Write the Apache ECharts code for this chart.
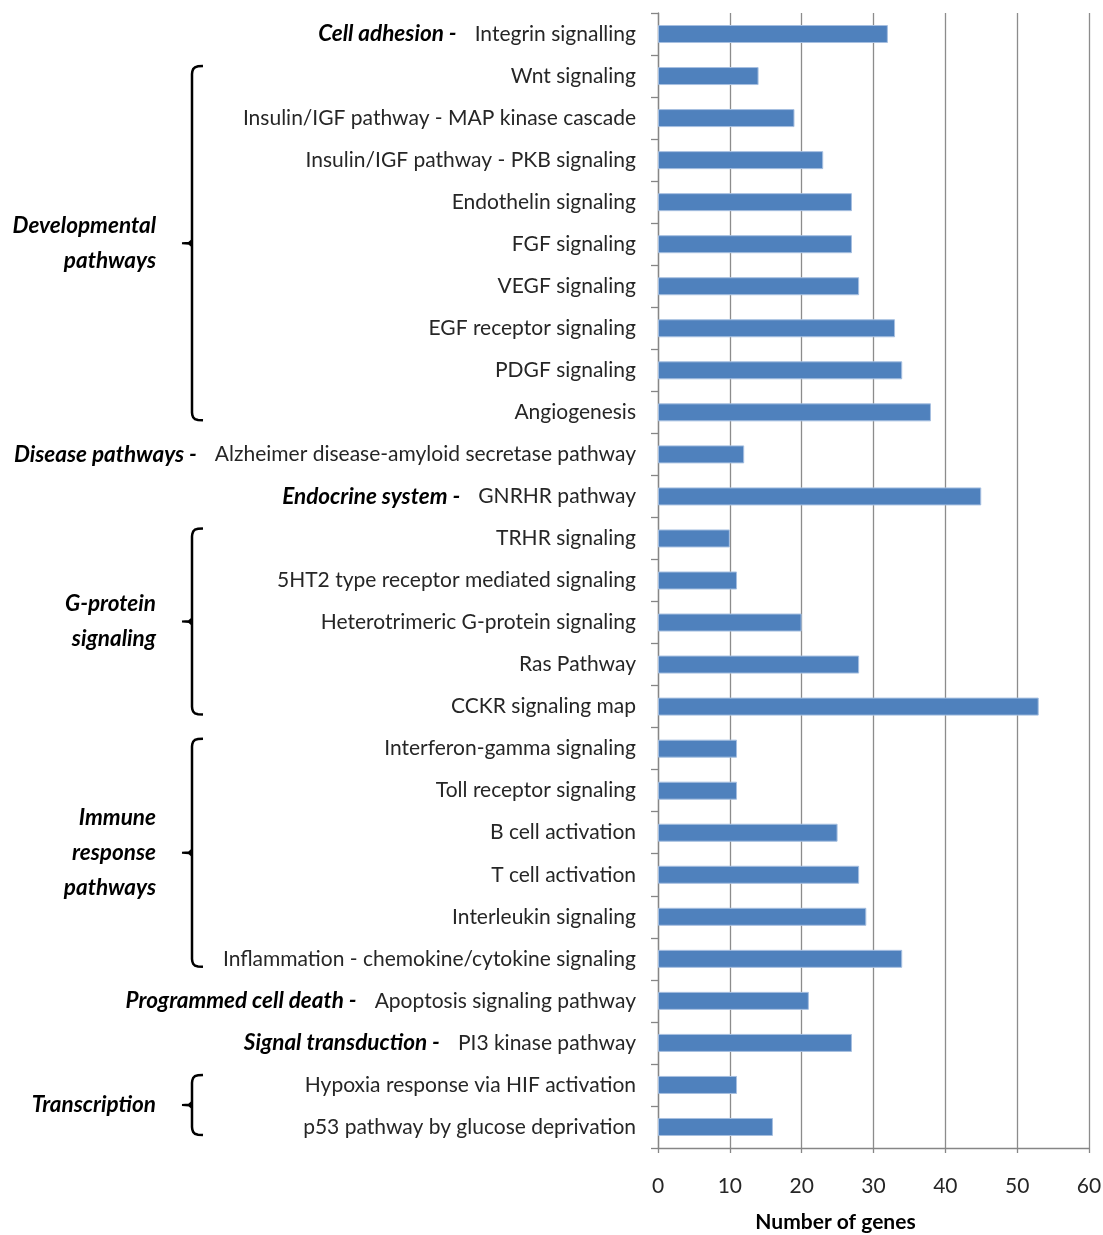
<!DOCTYPE html>
<html><head><meta charset="utf-8">
<script src="https://cdn.jsdelivr.net/npm/echarts@6/dist/echarts.min.js"></script>
<style>html,body{margin:0;padding:0;background:#fff}#chart{width:1103px;height:1235px}</style>
</head><body><div id="chart"></div>
<script>
const categories = [
  'Integrin signalling','Wnt signaling','Insulin/IGF pathway - MAP kinase cascade','Insulin/IGF pathway - PKB signaling',
  'Endothelin signaling','FGF signaling','VEGF signaling','EGF receptor signaling','PDGF signaling','Angiogenesis',
  'Alzheimer disease-amyloid secretase pathway','GNRHR pathway','TRHR signaling','5HT2 type receptor mediated signaling',
  'Heterotrimeric G-protein signaling','Ras Pathway','CCKR signaling map','Interferon-gamma signaling','Toll receptor signaling',
  'B cell activation','T cell activation','Interleukin signaling','Inflammation - chemokine/cytokine signaling',
  'Apoptosis signaling pathway','PI3 kinase pathway','Hypoxia response via HIF activation','p53 pathway by glucose deprivation'
];
const values = [32,14,19,23,27,27,28,33,34,38,12,45,10,11,20,28,53,11,11,25,28,29,34,21,27,11,16];
const inlineGroups = [
  {name:'Cell adhesion -', index:0},
  {name:'Disease pathways -', index:10},
  {name:'Endocrine system -', index:11},
  {name:'Programmed cell death -', index:23},
  {name:'Signal transduction -', index:24}
];
const bracketGroups = [
  {name:'Developmental\npathways', first:1, last:9},
  {name:'G-protein\nsignaling', first:12, last:16},
  {name:'Immune\nresponse\npathways', first:17, last:22},
  {name:'Transcription', first:25, last:26}
];
const xMin = 0, xMax = 60, xInterval = 10;
const xAxisName = 'Number of genes';

function hasFont(f){
  const c=document.createElement('canvas').getContext('2d');
  const s='abcdefghijklmnopqrstuvwxyz ABCDEFGHIJ 0123456789';
  c.font='40px monospace'; const w1=c.measureText(s).width;
  c.font='40px "'+f+'", monospace'; const w2=c.measureText(s).width;
  c.font='40px serif'; const w3=c.measureText(s).width;
  c.font='40px "'+f+'", serif'; const w4=c.measureText(s).width;
  return Math.abs(w1-w2)>0.5 || Math.abs(w3-w4)>0.5;
}
const family = hasFont('Liberation Sans Narrow') ? 'Liberation Sans Narrow' : 'Lato';
function fitSize(text, target, prefix){
  const c=document.createElement('canvas').getContext('2d');
  c.font=(prefix||'')+' 100px "'+family+'"';
  return Math.round(100*target/c.measureText(text).width*2)/2;
}
const labelSize = fitSize('Alzheimer disease-amyloid secretase pathway', 425, '');
const groupSize = fitSize('Developmental', 143, 'italic bold');
const nameSize = fitSize('Number of genes', 161, 'bold');

const inlineMap = {};
inlineGroups.forEach(g => inlineMap[g.index] = g.name);

const chart = echarts.init(document.getElementById('chart'), null, {renderer:'canvas'});
const textColor = '#262626';
chart.setOption({
  animation:false,
  backgroundColor:'#ffffff',
  textStyle:{fontFamily:family},
  grid:{left:658, right:14, top:13, bottom:87, containLabel:false, outerBoundsMode:'none'},
  xAxis:{
    type:'value', min:xMin, max:xMax, interval:xInterval,
    axisLine:{show:true, lineStyle:{color:'#868686', width:1.3}},
    axisTick:{show:true, length:5, lineStyle:{color:'#868686', width:1.3}},
    splitLine:{show:true, lineStyle:{color:'#8c8c8c', width:1.3}},
    axisLabel:{margin:28, fontSize:labelSize, color:textColor, fontFamily:family},
    name:xAxisName, nameLocation:'middle', nameGap:64,
    nameTextStyle:{fontSize:nameSize, fontWeight:'bold', color:'#000', fontFamily:family, padding:[0,76,0,0]}
  },
  yAxis:{
    type:'category', data:categories, inverse:true,
    axisLine:{show:true, lineStyle:{color:'#868686', width:1.3}},
    axisTick:{show:true, length:7, lineStyle:{color:'#868686', width:1.3}},
    splitLine:{show:false},
    axisLabel:{
      margin:22, fontSize:labelSize, color:textColor, fontFamily:family, interval:0,
      formatter:function(v, i){
        if (inlineMap[i] !== undefined) return '{g|'+inlineMap[i]+'}{s|}{n|'+v+'}';
        return v;
      },
      rich:{
        g:{fontStyle:'italic', fontWeight:'bold', fontSize:groupSize, color:'#000', fontFamily:family},
        s:{width:18},
        n:{fontSize:labelSize, color:textColor, fontFamily:family}
      }
    }
  },
  series:[{
    type:'bar', data:values, barWidth:18, silent:true,
    itemStyle:{color:'#4F81BD', borderColor:'#a6bfe0', borderWidth:1}
  }]
});

const elements = [];
const bx = 192;
bracketGroups.forEach(g => {
  const y1 = chart.convertToPixel({yAxisIndex:0}, g.first);
  const y2 = chart.convertToPixel({yAxisIndex:0}, g.last);
  const top = y1 - 10, bot = y2 + 8, mid = (top + bot) / 2;
  const pts = [
    [bx+11, top], [bx+6, top+0.3], [bx+3, top+1.2], [bx+1.2, top+3], [bx+0.3, top+5.5], [bx, top+8],
    [bx, bot-8], [bx+0.3, bot-5.5], [bx+1.2, bot-3], [bx+3, bot-1.2], [bx+6, bot-0.3], [bx+11, bot]
  ];
  elements.push({type:'polyline', shape:{points:pts}, style:{fill:null, stroke:'#000', lineWidth:2.5}, silent:true});
  elements.push({type:'polyline', shape:{points:[[bx-10, mid],[bx-3, mid-0.5],[bx, mid-3],[bx, mid+3],[bx-3, mid+0.5],[bx-10, mid]]},
    style:{fill:'#000', stroke:'#000', lineWidth:2}, silent:true});
  elements.push({type:'text', x:156, y:mid, silent:true,
    style:{text:g.name, align:'right', verticalAlign:'middle', fill:'#000',
      font:'italic bold '+groupSize+'px "'+family+'"', lineHeight:35}});
});
chart.setOption({graphic:elements});
</script></body></html>
